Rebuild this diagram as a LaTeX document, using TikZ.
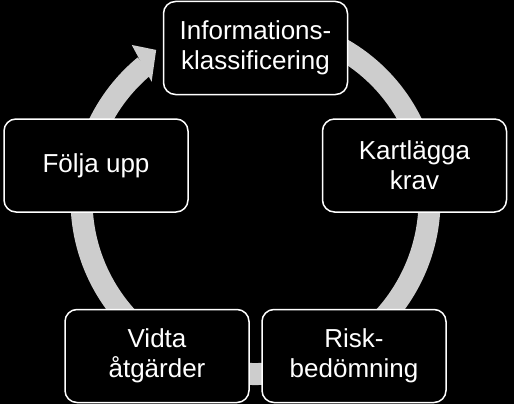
\documentclass[tikz,border=0pt]{standalone}
\usepackage{fontspec}
\setmainfont{Liberation Sans}
\definecolor{ringgray}{RGB}{205,205,205}
\begin{document}
\begin{tikzpicture}[x=1pt,y=-1pt,
  stepbox/.style={draw=white, line width=1.5pt, fill=black, rounded corners=12pt,
    minimum width=184pt, minimum height=93pt, align=center, text=white,
    font=\fontsize{26}{30}\selectfont, inner sep=0pt}]
\fill[black] (0,0) rectangle (514,404);
\useasboundingbox (0,0) rectangle (514,404);
\coordinate (c) at (255.5,200);
% ring
\draw[ringgray, line width=22pt] ([shift={(-62:174)}]c) arc[start angle=-62, end angle=230.5, radius=174];
% arrow head
\fill[ringgray] ([shift={(228.7:157.4)}]c) -- ([shift={(231.4:198.4)}]c) -- ([shift={(236.5:180)}]c) -- cycle;
% boxes
\node[stepbox] (info) at (255.5,48) {Informations-\\klassificering};
\node[stepbox] (krav) at (414.5,165.5) {Kartlägga\\krav};
\node[stepbox] (risk) at (354,356) {Risk-\\bedömning};
\node[stepbox] (vidta) at (157,356) {Vidta\\åtgärder};
\node[stepbox] (folja) at (96,165.5) {Följa upp};
\end{tikzpicture}
\end{document}
